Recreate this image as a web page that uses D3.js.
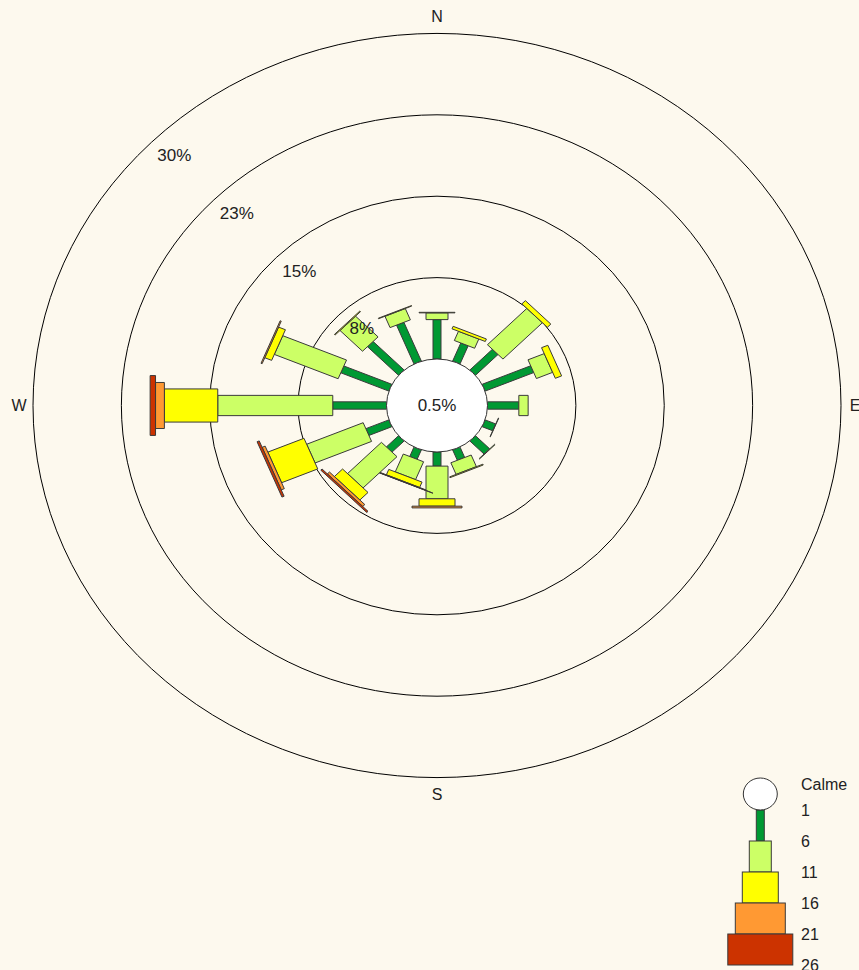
<!DOCTYPE html>
<html>
<head>
<meta charset="utf-8">
<script src="https://cdn.jsdelivr.net/npm/d3@7"></script>
<style>
  html, body { margin: 0; padding: 0; background: #fdf9ee; }
  svg { display: block; font-family: "Liberation Sans", Arial, sans-serif; }
</style>
</head>
<body>
<div id="chartbox"></div>
<script>
const WIDTH = 859
const HEIGHT = 970

// wind directions, clockwise from north
const directions = ['N', 'NNE', 'NE', 'ENE', 'E', 'ESE', 'SE', 'SSE', 'S', 'SSW', 'SW', 'WSW', 'W', 'WNW', 'NW', 'NNW']

// frequency (%) per speed class
const freq1_6 = [3.63, 1.81, 2.70, 4.46, 2.66, 0.97, 1.70, 1.04, 1.30, 0.94, 1.45, 2.11, 4.56, 4.41, 3.72, 3.87]
const freq6_11 = [0.62, 0.92, 4.73, 1.49, 0.79, 0.03, 0.05, 1.16, 3.01, 1.78, 4.07, 5.19, 9.76, 5.86, 2.70, 1.13]
const freq11_16 = [0.05, 0.25, 0.42, 0.58, 0, 0, 0, 0.08, 0.68, 0.54, 0.98, 3.32, 4.53, 0.63, 0.08, 0.05]
const freq16_21 = [0, 0, 0, 0, 0, 0, 0, 0, 0.16, 0.04, 0.25, 0.28, 0.75, 0.10, 0, 0]
const freq21_26 = [0, 0, 0, 0, 0, 0, 0, 0, 0, 0.02, 0.15, 0.20, 0.46, 0, 0, 0]

const calmLabel = '0.5%'
const ringValues = [7.5, 15, 22.5, 30]
const ringLabels = ['8%', '15%', '23%', '30%']
const legendLabels = ['1', '6', '11', '16', '21', '26']
const compass = [{ t: 'N', a: 0 }, { t: 'E', a: 90 }, { t: 'S', a: 180 }, { t: 'W', a: 270 }]

const colors = ['#009933', '#ccff66', '#ffff00', '#ff9933', '#cc3300']
const widths = [8, 22, 36, 50, 65]
const classes = [freq1_6, freq6_11, freq11_16, freq16_21, freq21_26]

const cx = 437, cy = 405.5
const YS = 0.921   // rose is drawn a bit squashed vertically

const r = d3.scaleLinear().domain([0, 30]).range([50.5, 404])
const angle = d3.scaleLinear().domain([0, directions.length]).range([0, 360])

const svg = d3.select('#chartbox')
  .append('svg')
  .attr('width', WIDTH)
  .attr('height', HEIGHT)
  .style('background-color', '#fdf9ee')

const rose = svg.append('g')
  .attr('transform', `translate(${cx},${cy}) scale(1,${YS})`)

rose.selectAll('circle.ring')
  .data(ringValues)
  .enter()
  .append('circle')
  .attr('class', 'ring')
  .attr('r', d => r(d))
  .attr('fill', 'none')
  .attr('stroke', '#000')
  .attr('stroke-width', 1)
  .attr('vector-effect', 'non-scaling-stroke')

// one group per direction, bars drawn pointing up then rotated
const spokes = rose.selectAll('g.spoke')
  .data(directions.map((d, i) => {
    const cum = d3.cumsum(classes.map(c => c[i]))
    return { dir: d, i, segs: classes.map((c, k) => ({ k, from: k ? cum[k - 1] : 0, to: cum[k], v: c[i] })).filter(s => s.v > 0) }
  }))
  .enter()
  .append('g')
  .attr('class', 'spoke')
  .attr('transform', d => `rotate(${angle(d.i)})`)

spokes.selectAll('rect')
  .data(d => d.segs)
  .enter()
  .append('rect')
  .attr('x', s => -widths[s.k] / 2)
  .attr('width', s => widths[s.k])
  .attr('y', s => -r(s.to))
  .attr('height', s => r(s.to) - r(s.from))
  .attr('fill', s => colors[s.k])
  .attr('stroke', '#3a3a3a')
  .attr('stroke-width', 1)
  .attr('vector-effect', 'non-scaling-stroke')

rose.append('circle')
  .attr('r', r(0))
  .attr('fill', '#fff')
  .attr('stroke', '#333')
  .attr('stroke-width', 1)
  .attr('vector-effect', 'non-scaling-stroke')

svg.append('text')
  .attr('x', cx)
  .attr('y', cy)
  .attr('text-anchor', 'middle')
  .attr('dominant-baseline', 'central')
  .attr('font-size', 17)
  .attr('fill', '#222')
  .text(calmLabel)

// ring labels along the NW diagonal
svg.selectAll('text.ringlabel')
  .data(ringValues)
  .enter()
  .append('text')
  .attr('class', 'ringlabel')
  .attr('x', d => cx - r(d) * Math.SQRT1_2 + 23)
  .attr('y', d => cy - r(d) * Math.SQRT1_2 * YS + 13.5)
  .attr('text-anchor', 'middle')
  .attr('dominant-baseline', 'central')
  .attr('font-size', 17)
  .attr('fill', '#222')
  .text((d, i) => ringLabels[i])

svg.selectAll('text.compass')
  .data(compass)
  .enter()
  .append('text')
  .attr('class', 'compass')
  .attr('x', d => cx + Math.sin(d.a * Math.PI / 180) * (r(30) + 14))
  .attr('y', d => cy - Math.cos(d.a * Math.PI / 180) * (r(30) * YS + 16.5))
  .attr('text-anchor', 'middle')
  .attr('dominant-baseline', 'central')
  .attr('font-size', 16)
  .attr('fill', '#222')
  .text(d => d.t)

// legend
const lg = svg.append('g')
const lx = 760.3
const ly = d3.scaleLinear().domain([0, 5]).range([810, 965])

lg.selectAll('rect')
  .data(colors)
  .enter()
  .append('rect')
  .attr('x', (d, i) => lx - widths[i] / 2)
  .attr('width', (d, i) => widths[i])
  .attr('y', (d, i) => ly(i))
  .attr('height', (d, i) => ly(i + 1) - ly(i))
  .attr('fill', d => d)
  .attr('stroke', '#3a3a3a')
  .attr('stroke-width', 1)

lg.append('ellipse')
  .attr('cx', lx)
  .attr('cy', ly(0) - 16)
  .attr('rx', 17)
  .attr('ry', 16)
  .attr('fill', '#fff')
  .attr('stroke', '#333')

lg.selectAll('text.lab')
  .data(legendLabels)
  .enter()
  .append('text')
  .attr('class', 'lab')
  .attr('x', 801)
  .attr('y', (d, i) => ly(i))
  .attr('dominant-baseline', 'central')
  .attr('font-size', 16)
  .attr('fill', '#222')
  .text(d => d)

lg.append('text')
  .attr('x', 801)
  .attr('y', ly(0) - 26)
  .attr('dominant-baseline', 'central')
  .attr('font-size', 16)
  .attr('fill', '#222')
  .text('Calme')
</script>
</body>
</html>
